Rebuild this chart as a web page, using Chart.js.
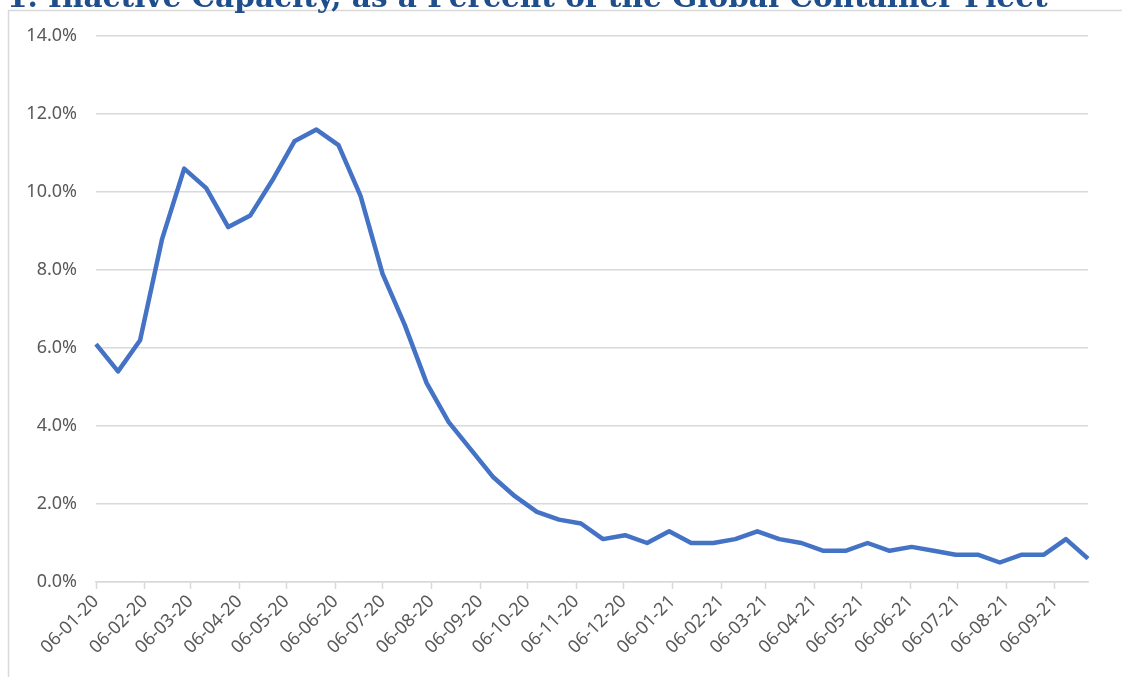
<!DOCTYPE html>
<html>
<head>
<meta charset="utf-8">
<script src="https://cdn.jsdelivr.net/npm/chart.js@4.4.0/dist/chart.umd.min.js"></script>
<style>
html, body { margin: 0; padding: 0; background: #fff; overflow: hidden; }
#wrap { position: relative; width: 1122px; height: 677px; }
</style>
</head>
<body>
<div id="wrap"><canvas id="chart1" width="1122" height="677"></canvas></div>
<script>
// chart text
const chartTitle = '1. Inactive Capacity, as a Percent of the Global Container Fleet';

// biweekly observation dates (yyyy-mm-dd)
const dates = [
    '2020-01-06', '2020-01-20', '2020-02-03', '2020-02-17', '2020-03-02', '2020-03-16',
    '2020-03-30', '2020-04-13', '2020-04-27', '2020-05-11', '2020-05-25', '2020-06-08',
    '2020-06-22', '2020-07-06', '2020-07-20', '2020-08-03', '2020-08-17', '2020-08-31',
    '2020-09-14', '2020-09-28', '2020-10-12', '2020-10-26', '2020-11-09', '2020-11-23',
    '2020-12-07', '2020-12-21', '2021-01-04', '2021-01-18', '2021-02-01', '2021-02-15',
    '2021-03-01', '2021-03-15', '2021-03-29', '2021-04-12', '2021-04-26', '2021-05-10',
    '2021-05-24', '2021-06-07', '2021-06-21', '2021-07-05', '2021-07-19', '2021-08-02',
    '2021-08-16', '2021-08-30', '2021-09-13', '2021-09-27'
];

// inactive capacity, % of fleet
const inactive = [
    6.1, 5.4, 6.2, 8.8, 10.6, 10.1, 9.1, 9.4, 10.3, 11.3, 11.6, 11.2,
    9.9, 7.9, 6.6, 5.1, 4.1, 3.4, 2.7, 2.2, 1.8, 1.6, 1.5, 1.1,
    1.2, 1.0, 1.3, 1.0, 1.0, 1.1, 1.3, 1.1, 1.0, 0.8, 0.8, 1.0,
    0.8, 0.9, 0.8, 0.7, 0.7, 0.5, 0.7, 0.7, 1.1, 0.6
];

// x axis tick labels (dd-mm-yy)
const tickLabels = [
    '06-01-20', '06-02-20', '06-03-20', '06-04-20', '06-05-20', '06-06-20', '06-07-20',
    '06-08-20', '06-09-20', '06-10-20', '06-11-20', '06-12-20', '06-01-21', '06-02-21',
    '06-03-21', '06-04-21', '06-05-21', '06-06-21', '06-07-21', '06-08-21', '06-09-21'
];

// y axis range
const yMin = 0;
const yMax = 14;
const yStep = 2;

function isoDay(s) {
    var p = s.split('-');
    return Date.UTC(+p[0], +p[1] - 1, +p[2]) / 864e5;
}
function labelDay(s) {
    var p = s.split('-');
    return Date.UTC(2000 + +p[2], +p[1] - 1, +p[0]) / 864e5;
}

const day0 = isoDay(dates[0]);
const points = dates.map(function (d, i) {
    return { x: isoDay(d) - day0, y: inactive[i] };
});
const tickDays = tickLabels.map(function (l) { return labelDay(l) - day0; });

const axisFont = { family: "'Noto Sans', 'Open Sans', sans-serif", size: 18 };
const textGrey = '#595959';
const lineGrey = '#d9d9d9';

// frame + clipped title
const framePlugin = {
    id: 'frame',
    beforeDraw: function (chart) {
        var ctx = chart.ctx;
        ctx.save();
        ctx.strokeStyle = lineGrey;
        ctx.lineWidth = 1.5;
        ctx.beginPath();
        ctx.moveTo(8.5, chart.height);
        ctx.lineTo(8.5, 10.5);
        ctx.lineTo(chart.width, 10.5);
        ctx.stroke();
        ctx.restore();
    },
    afterDraw: function (chart) {
        var ctx = chart.ctx;
        ctx.save();
        ctx.font = "bold 30px 'DejaVu Serif', serif";
        var w = ctx.measureText(chartTitle).width;
        var size = 30 * 1041 / w;
        ctx.font = 'bold ' + size + "px 'DejaVu Serif', serif";
        ctx.fillStyle = '#1F4E8C';
        ctx.textBaseline = 'alphabetic';
        ctx.textAlign = 'left';
        ctx.fillText(chartTitle, 7, 7);
        ctx.restore();
    }
};

const config = {
    type: 'line',
    data: {
        datasets: [{
            label: 'Inactive capacity',
            data: points,
            borderColor: '#4472C4',
            backgroundColor: '#4472C4',
            borderWidth: 4.5,
            borderJoinStyle: 'round',
            pointRadius: 0,
            tension: 0,
            clip: false
        }]
    },
    options: {
        responsive: false,
        devicePixelRatio: 1,
        animation: false,
        layout: { padding: { top: 36, right: 34, left: 0, bottom: 0 } },
        plugins: {
            legend: { display: false },
            tooltip: { enabled: false },
            title: { display: false }
        },
        scales: {
            x: {
                type: 'linear',
                min: 0,
                max: points[points.length - 1].x,
                afterBuildTicks: function (scale) {
                    scale.ticks = tickDays.map(function (v) { return { value: v }; });
                },
                afterFit: function (scale) { scale.height = 95; },
                grid: { drawOnChartArea: false, color: lineGrey, tickLength: 7, tickWidth: 1.5 },
                border: { color: lineGrey, width: 1.5 },
                ticks: {
                    autoSkip: false,
                    maxRotation: 45,
                    minRotation: 45,
                    color: textGrey,
                    font: axisFont,
                    padding: 2,
                    callback: function (v, i) { return tickLabels[i]; }
                }
            },
            y: {
                min: yMin,
                max: yMax,
                afterFit: function (scale) { scale.width = 96; },
                grid: { color: lineGrey, lineWidth: 1.5, drawTicks: false },
                border: { display: false },
                ticks: {
                    stepSize: yStep,
                    color: textGrey,
                    font: axisFont,
                    padding: 19,
                    callback: function (v) { return v.toFixed(1) + '%'; }
                }
            }
        }
    },
    plugins: [framePlugin]
};

const myChart = new Chart(document.getElementById('chart1'), config);
</script>
</body>
</html>
